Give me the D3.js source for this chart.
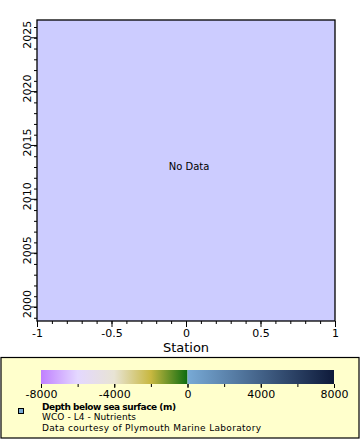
<!DOCTYPE html>
<html>
<head>
<meta charset="utf-8">
<script src='https://cdn.jsdelivr.net/npm/d3@7'></script>
<style>
body {margin:0; background:#fff;}
text {font-family:'DejaVu Sans', sans-serif;}
</style>
</head>
<body>
<script>
// data
var xDomain = [-1, 1];
var yDomain = [1998.7, 2026.65];
var xTicks = [-1, -0.5, 0, 0.5, 1];
var yTicks = [2000, 2005, 2010, 2015, 2020, 2025];
var yMinor = d3.range(1999, 2027);
var cbarTicks = [-8000, -4000, 0, 4000, 8000];
var cbarStops = [-8000, -6000, -4000, -2000, 0];
var cbarColors = ['#c080ff', '#e4d8ff', '#e8e4d4', '#c8b840', '#0c6c10'];
var cbarStops2 = [0, 8000];
var cbarColors2 = ['#78aad6', '#0e1a3a'];
var legendLines = ['WCO - L4 - Nutrients', 'Data courtesy of Plymouth Marine Laboratory'];
var legendWidths = [94, 219];

var svg = d3.select('body').append('svg')
  .attr('width', 360).attr('height', 440);

var x = d3.scaleLinear().domain(xDomain).range([37, 335]);
var y = d3.scaleLinear().domain(yDomain).range([321, 20]);

svg.append('rect')
  .attr('x', 37).attr('y', 20)
  .attr('width', 298).attr('height', 301)
  .style('fill', '#ccccff');

svg.append('text')
  .attr('x', 189).attr('y', 170)
  .style('text-anchor', 'middle')
  .style('font-size', '10px')
  .text('No Data');

// x axis
var xa = svg.append('g').attr('transform', 'translate(0,321)');
xa.call(d3.axisBottom(x).ticks(20).tickSize(3).tickFormat(''));
xa.append('g').call(d3.axisBottom(x).tickValues(xTicks).tickSize(6).tickFormat(function(d){return String(d);}))
  .selectAll('text').style('font-size', '11px').style('fill', '#000').attr('dy', '0.65em');
xa.selectAll('.domain').remove();

// y axis
var ya = svg.append('g').attr('transform', 'translate(37,0)');
ya.call(d3.axisLeft(y).tickValues(yMinor).tickSize(3).tickFormat(''));
var yl = ya.append('g').call(d3.axisLeft(y).tickValues(yTicks).tickSize(6).tickFormat(d3.format('d')));
yl.selectAll('text')
  .style('font-size', '11px').style('fill', '#000')
  .attr('transform', function(d){return 'translate(-10,' + (y(d) - 3) + ') rotate(-90)';})
  .attr('x', 0).attr('y', 0).attr('dy', '0.35em')
  .style('text-anchor', 'middle');
yl.selectAll('.tick').attr('transform', null);
yl.selectAll('.tick line').attr('y1', function(d){return y(d);}).attr('y2', function(d){return y(d);});
ya.selectAll('.domain').remove();
svg.selectAll('.tick line').style('stroke', '#000');

// plot border
svg.append('rect')
  .attr('x', 37).attr('y', 20).attr('width', 298).attr('height', 301)
  .style('fill', 'none').style('stroke', '#000').style('stroke-width', 1.3);

svg.append('text')
  .attr('x', 186).attr('y', 352)
  .style('text-anchor', 'middle').style('font-size', '13px')
  .text('Station');

// legend box
svg.append('rect')
  .attr('x', 1).attr('y', 357.5).attr('width', 358).attr('height', 80.5)
  .style('fill', '#ffffcc').style('stroke', '#000').style('stroke-width', 1.2);

var c = d3.scaleLinear().domain([-8000, 8000]).range([41, 334]);
var defs = svg.append('defs');
var g1 = defs.append('linearGradient').attr('id', 'g1');
g1.selectAll('stop').data(cbarStops).enter().append('stop')
  .attr('offset', function(d){return (d + 8000) / 8000;})
  .attr('stop-color', function(d, i){return cbarColors[i];});
var g2 = defs.append('linearGradient').attr('id', 'g2');
g2.selectAll('stop').data(cbarStops2).enter().append('stop')
  .attr('offset', function(d){return d / 8000;})
  .attr('stop-color', function(d, i){return cbarColors2[i];});

svg.append('rect').attr('x', c(-8000)).attr('y', 370)
  .attr('width', c(0) - c(-8000)).attr('height', 14).style('fill', 'url(#g1)');
svg.append('rect').attr('x', c(0)).attr('y', 370)
  .attr('width', c(8000) - c(0)).attr('height', 14).style('fill', 'url(#g2)');

var ca = svg.append('g').attr('transform', 'translate(0,384)');
ca.call(d3.axisBottom(c).ticks(8).tickSize(3).tickFormat(''));
ca.append('g').call(d3.axisBottom(c).tickValues(cbarTicks).tickSize(4).tickFormat(function(d){return String(d);}))
  .selectAll('text').style('font-size', '11px').style('fill', '#000').attr('dy', '0.6em');
ca.selectAll('.domain').remove();
ca.selectAll('.tick line').style('stroke', '#000');

svg.append('rect').attr('x', 18.5).attr('y', 408.5).attr('width', 5).attr('height', 5)
  .style('fill', '#78aad6').style('stroke', '#000');

svg.append('text').attr('x', 42).attr('y', 409.5)
  .style('font-size', '9px').style('font-weight', 'bold')
  .attr('textLength', 134).attr('lengthAdjust', 'spacing')
  .text('Depth below sea surface (m)');
svg.selectAll('.ll').data(legendLines).enter().append('text')
  .attr('class', 'll')
  .attr('x', 42).attr('y', function(d, i){return 420 + i * 10.5;})
  .style('font-size', '9px')
  .attr('textLength', function(d, i){return legendWidths[i];}).attr('lengthAdjust', 'spacing')
  .text(function(d){return d;});
</script>
</body>
</html>
